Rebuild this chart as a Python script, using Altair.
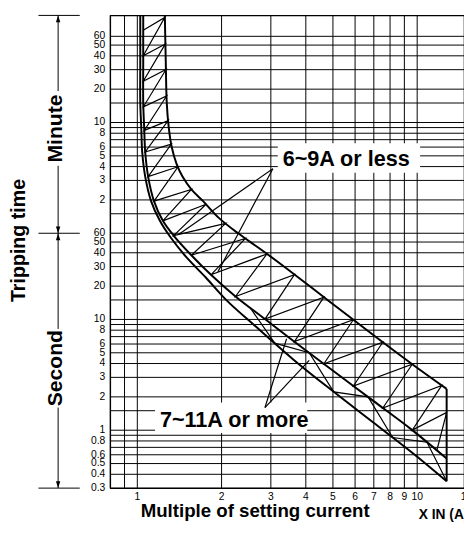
import altair as alt
import pandas as pd

FONT = "Liberation Sans"

# ---------------- axes: x = multiple of setting current, y = tripping time (s) ----------------
x_grid = [0.8, 0.9, 1, 2, 3, 4, 5, 6, 7, 8, 9, 10]
x_labels = [1, 2, 3, 4, 5, 6, 7, 8, 9, 10, 15]
y_grid_sec = [0.3, 0.4, 0.5, 0.6, 0.7, 0.8, 0.9, 1, 1.5, 2, 3, 4, 5, 6, 7, 8, 9, 10, 15, 20, 30, 40, 50, 60]
y_grid_min = [1.5, 2, 3, 4, 5, 6, 7, 8, 9, 10, 15, 20, 30, 40, 50, 60]
y_label_sec = [0.3, 0.4, 0.5, 0.6, 0.8, 1, 2, 3, 4, 5, 6, 8, 10, 20, 30, 40, 50, 60]
y_label_min = [2, 3, 4, 5, 6, 8, 10, 20, 30, 40, 50, 60]

# ---------------- tripping curves (x multiple, y seconds) ----------------
upper_x = [1.254, 1.264, 1.274, 1.295, 1.327, 1.381, 1.450, 1.560, 1.718, 1.955, 2.298, 2.790, 3.360, 4.755, 6.95, 9.604, 12.744]
upper_y = [5560, 2043, 902, 541, 360, 254, 195, 149.5, 117, 82.6, 59.6, 42.1, 29.8, 15.16, 7.27, 3.94, 2.36]
middle_x = [1.0497, 1.0497, 1.0497, 1.058, 1.067, 1.093, 1.147, 1.234, 1.348, 1.560, 1.833, 2.243, 2.858, 3.642, 5.032, 6.95, 9.604, 12.744]
middle_y = [5560, 2043, 902, 541, 324.9, 194.9, 117, 77.7, 57.2, 38.0, 25.3, 16.12, 10.08, 6.30, 3.41, 1.849, 1.002, 0.554]
lower_x = [1.0245, 1.0245, 1.0245, 1.033, 1.041, 1.067, 1.120, 1.204, 1.316, 1.497, 1.760, 2.103, 2.637, 3.642, 5.032, 6.95, 9.604, 12.744]
lower_y = [5560, 2043, 902, 541, 324.9, 194.9, 117, 77.7, 54.9, 36.5, 23.8, 14.56, 8.73, 4.27, 2.22, 1.18, 0.626, 0.346]
end_x = [12.744]
end_y_low = [0.346]
end_y_high = [2.36]

# ---------------- hatching (zig-zag nodes) ----------------
hatch1_x = [1.0497, 1.2538, 1.0497, 1.2599, 1.0497, 1.2661, 1.0514, 1.2723, 1.059, 1.2888,
            1.0668, 1.3226, 1.0929, 1.3975, 1.1473, 1.5597, 1.2338, 1.7604, 1.348, 2.0693,
            1.5597, 2.4322, 1.833, 2.9047, 2.243, 3.642, 2.858, 4.6416, 3.642, 5.9145,
            4.6416, 7.5387, 5.9145, 9.6043, 7.5387, 12.24, 9.6043, 12.744, 11.755]
hatch1_y = [4093, 5337, 2406, 3074, 1415, 1808, 831.7, 1041, 509.2, 624.5,
            324.9, 382.6, 194.9, 239.1, 117.0, 149.5, 77.7, 109.6, 57.2, 73.7,
            38.0, 53.8, 25.3, 39.05, 16.12, 25.4, 10.08, 15.89, 6.30, 9.93,
            3.98, 6.23, 2.51, 3.94, 1.586, 2.54, 1.002, 1.447, 0.656]
hatch2_x = [2.532, 3.098, 4.112, 5.032, 6.676, 8.173, 10.842, 12.744]
hatch2_y = [12.74, 6.11, 5.01, 2.22, 2.00, 0.859, 0.778, 0.346]

# ---------------- callouts ----------------
label_text = ["6~9A or less", "7~11A or more"]
label_x = [3.306, 1.204]
label_y = [281.6, 1.228]
box_x1 = [3.176, 1.157]
box_x2 = [10.245, 4.047]
box_y1 = [390.6, 1.775]
box_y2 = [211.6, 0.942]
ptr_x1 = [3.050, 3.050, 2.858, 2.858]
ptr_y1 = [229.6, 229.6, 1.602, 1.602]
ptr_x2 = [1.404, 1.940, 3.415, 4.112]
ptr_y2 = [58.4, 26.9, 6.70, 4.27]

# ---------------- left time-unit brackets ----------------
unit_text = ["Minute", "Second"]
unit_text_y = [530, 3.63]
bracket_ticks = [5560, 60, 0.3]
bracket_y1 = [5560, 244, 60, 1.602]
bracket_y2 = [1153, 60, 8.21, 0.3]
head_y = [5560, 60, 60, 0.3]
head_dir = ["up", "down", "up", "down"]

# ---------------- build ----------------
XS = alt.Scale(type="log", domain=[0.8, 14.7], nice=False)
YS = alt.Scale(type="log", domain=[0.3, 5560], nice=False)


def xq(f="x"):
    return alt.X(f"{f}:Q", scale=XS, axis=None)


def yq(f="y"):
    return alt.Y(f"{f}:Q", scale=YS, axis=None)


def fmt(v):
    return ("%g" % v)


y_grid_all = y_grid_sec + [m * 60 for m in y_grid_min]
y_lab_df = pd.DataFrame({
    "y": y_label_sec + [m * 60 for m in y_label_min],
    "t": [fmt(v) for v in y_label_sec] + [fmt(v) for v in y_label_min],
})
x_lab_df = pd.DataFrame({"x": x_labels, "t": [fmt(v) for v in x_labels]})

gx = alt.Chart(pd.DataFrame({"x": x_grid})).mark_rule(color="black", strokeWidth=1).encode(x=xq())
gy = alt.Chart(pd.DataFrame({"y": y_grid_all})).mark_rule(color="black", strokeWidth=1).encode(y=yq())

ylabels = alt.Chart(y_lab_df).mark_text(
    align="right", baseline="middle", font=FONT, fontSize=10.5, color="black").encode(
    y=yq(), x=alt.value(-5), text="t:N")
xlabels = alt.Chart(x_lab_df).mark_text(
    align="center", baseline="top", font=FONT, fontSize=10.5, color="black").encode(
    x=xq(), y=alt.value(485), text="t:N")

titles = alt.Chart(pd.DataFrame({"t": ["Multiple of setting current"]})).mark_text(
    align="center", baseline="alphabetic", font=FONT, fontSize=19, fontWeight="bold", color="black").encode(
    x=alt.value(147.5), y=alt.value(510), text="t:N")
ytitle = alt.Chart(pd.DataFrame({"t": ["Tripping time"]})).mark_text(
    angle=270, align="center", baseline="alphabetic", font=FONT, fontSize=20, fontWeight="bold", color="black").encode(
    x=alt.value(-87), y=alt.value(229), text="t:N")

boxes = alt.Chart(pd.DataFrame({"x": box_x1, "x2": box_x2, "y": box_y1, "y2": box_y2})).mark_rect(
    color="white").encode(x=xq(), x2="x2:Q", y=yq(), y2="y2:Q")

curve_rows = []
for name, xs, ys in [("upper", upper_x, upper_y), ("middle", middle_x, middle_y), ("lower", lower_x, lower_y)]:
    for i, (a, b) in enumerate(zip(xs, ys)):
        curve_rows.append({"curve": name, "i": i, "x": a, "y": b})
curves = alt.Chart(pd.DataFrame(curve_rows)).mark_line(
    color="black", strokeWidth=2, interpolate="catmull-rom", clip=True).encode(
    x=xq(), y=yq(), detail="curve:N", order="i:Q")

hatch_rows = []
for name, xs, ys in [("h1", hatch1_x, hatch1_y), ("h2", hatch2_x, hatch2_y)]:
    for i, (a, b) in enumerate(zip(xs, ys)):
        hatch_rows.append({"h": name, "i": i, "x": a, "y": b})
hatch = alt.Chart(pd.DataFrame(hatch_rows)).mark_line(color="black", strokeWidth=1.2, clip=True).encode(
    x=xq(), y=yq(), detail="h:N", order="i:Q")

endline = alt.Chart(pd.DataFrame({"x": end_x, "y": end_y_low, "y2": end_y_high})).mark_rule(
    color="black", strokeWidth=2).encode(x=xq(), y=yq(), y2="y2:Q")

pointers = alt.Chart(pd.DataFrame({"x": ptr_x1, "y": ptr_y1, "x2": ptr_x2, "y2": ptr_y2})).mark_rule(
    color="black", strokeWidth=1.2).encode(x=xq(), y=yq(), x2="x2:Q", y2="y2:Q")

labels = alt.Chart(pd.DataFrame({"x": label_x, "y": label_y, "t": label_text})).mark_text(
    align="left", baseline="middle", font=FONT, fontSize=22, fontWeight="bold", color="black").encode(
    x=xq(), y=yq(), text="t:N")

xin = alt.Chart(pd.DataFrame({"t": ["X IN (A)"]})).mark_text(
    align="left", baseline="alphabetic", font=FONT, fontSize=14, fontWeight="bold", color="black").encode(
    x=alt.value(314), y=alt.value(512), text="t:N")

bticks = alt.Chart(pd.DataFrame({"y": bracket_ticks})).mark_rule(color="black", strokeWidth=1).encode(
    y=yq(), x=alt.value(-73), x2=alt.value(-31))

blines = alt.Chart(pd.DataFrame({"y": bracket_y1, "y2": bracket_y2})).mark_rule(color="black", strokeWidth=1).encode(
    y=yq(), y2="y2:Q", x=alt.value(-53))

UP = "M0,0L-0.32,1L0.32,1Z"
DOWN = "M0,0L-0.32,-1L0.32,-1Z"
heads = alt.Chart(pd.DataFrame({"y": head_y, "d": head_dir})).mark_point(
    filled=True, size=196, color="black", opacity=1).encode(
    y=yq(), x=alt.value(-53),
    shape=alt.Shape("d:N", scale=alt.Scale(domain=["up", "down"], range=[UP, DOWN]), legend=None))

units = alt.Chart(pd.DataFrame({"y": unit_text_y, "t": unit_text})).mark_text(
    angle=270, align="center", baseline="alphabetic", font=FONT, fontSize=21.5, fontWeight="bold", color="black").encode(
    y=yq(), x=alt.value(-49), text="t:N")

chart = alt.layer(
    gx, gy, boxes, curves, hatch, endline, pointers, labels, ylabels, xlabels, titles, ytitle,
    xin, bticks, blines, heads, units
).properties(
    width=360, height=481,
    autosize=alt.AutoSizeParams(type="none"),
    padding={"left": 104, "top": 3, "right": 0, "bottom": 34},
).configure_view(stroke="black", strokeWidth=1.2)

chart.save("out.html", embed_options={"renderer": "svg", "actions": False})
